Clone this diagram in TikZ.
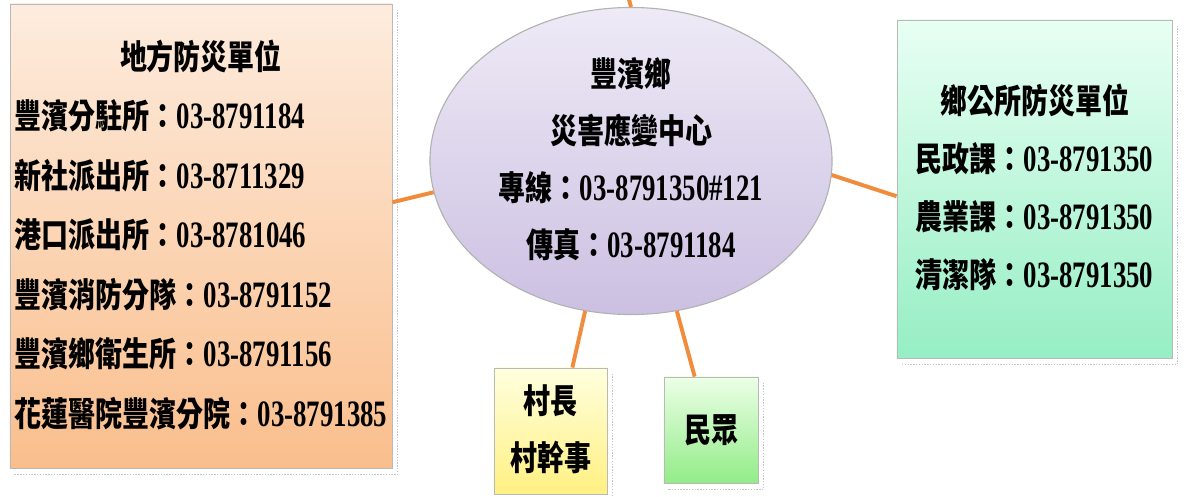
\documentclass[tikz,border=0pt]{standalone}
\usepackage{fontspec}
\setmainfont{Liberation Serif}
\newfontfamily\cjk{Noto Sans CJK TC}
\usepackage{graphicx}
\usepackage{xcolor}
\usepackage{tikz}
\usetikzlibrary{shapes.geometric}

\definecolor{linkorange}{RGB}{240,140,60}
\definecolor{peachtop}{RGB}{253,236,222}
\definecolor{peachbot}{RGB}{250,190,140}
\definecolor{lilactop}{RGB}{238,234,246}
\definecolor{lilacbot}{RGB}{204,192,226}
\definecolor{minttop}{RGB}{232,255,244}
\definecolor{mintbot}{RGB}{150,238,196}
\definecolor{lemontop}{RGB}{255,255,222}
\definecolor{lemonbot}{RGB}{255,240,130}
\definecolor{leaftop}{RGB}{236,255,230}
\definecolor{leafbot}{RGB}{146,236,136}

\newcommand{\sqz}[1]{\scalebox{0.8}[1]{#1}}
\newcommand{\digits}[1]{{\fontsize{26.5}{30}\selectfont\scalebox{0.9}[1]{#1}}}
\newcommand{\tel}[2]{{\cjk #1：}\digits{#2}}

\begin{document}
\begin{tikzpicture}[
    x=0.025cm, y=-0.025cm,
    unitbox/.style={draw=gray!55, line width=0.6pt, inner sep=0pt,
                    font=\bfseries\fontsize{24}{42.3}\selectfont},
    peachbox/.style={unitbox, top color=peachtop, bottom color=peachbot},
    mintbox/.style={unitbox, top color=minttop, bottom color=mintbot},
    lemonbox/.style={unitbox, top color=lemontop, bottom color=lemonbot},
    leafbox/.style={unitbox, top color=leaftop, bottom color=leafbot},
    hubshape/.style={ellipse, draw=gray!60, line width=0.8pt, inner sep=0pt,
                     top color=lilactop, bottom color=lilacbot},
    hubfont/.style={inner sep=0pt, font=\bfseries\fontsize{24}{40.5}\selectfont},
    link/.style={draw=linkorange, line width=2.8pt},
    speck/.style={draw=gray!45, densely dotted, line width=1pt},
]
\useasboundingbox (0,0) rectangle (1186,496);

% ---------------- centre ----------------
\node[hubshape, minimum width=10.05cm, minimum height=7.675cm] (hub) at (631,161) {};
\node[hubfont] (hubtext) at (hub.center) {\sqz{\begin{tabular}{@{}c@{}}
    {\cjk 豐濱鄉}\\
    {\cjk 災害應變中心}\\
    \tel{專線}{03-8791350\#121}\\
    \tel{傳真}{03-8791184}
  \end{tabular}}};

% ---------------- left: local units ----------------
\node[peachbox, minimum width=9.55cm, minimum height=11.6cm] (local) at (201,236)
  {\sqz{\begin{tabular}{@{}l@{}}
    \multicolumn{1}{@{}c@{}}{\cjk 地方防災單位}\\
    \tel{豐濱分駐所}{03-8791184}\\
    \tel{新社派出所}{03-8711329}\\
    \tel{港口派出所}{03-8781046}\\
    \tel{豐濱消防分隊}{03-8791152}\\
    \tel{豐濱鄉衛生所}{03-8791156}\\
    \tel{花蓮醫院豐濱分院}{03-8791385}
  \end{tabular}}};

% ---------------- right: township office ----------------
\node[mintbox, minimum width=6.875cm, minimum height=8.45cm,
      font=\bfseries\fontsize{24}{41.3}\selectfont] (office) at (1034.5,189)
  {\sqz{\begin{tabular}{@{}l@{}}
    \multicolumn{1}{@{}c@{}}{\cjk 鄉公所防災單位}\\
    \tel{民政課}{03-8791350}\\
    \tel{農業課}{03-8791350}\\
    \tel{清潔隊}{03-8791350}
  \end{tabular}}};

% ---------------- bottom ----------------
\node[lemonbox, minimum width=2.825cm, minimum height=3.15cm,
      font=\bfseries\fontsize{24}{40.5}\selectfont] (village) at (550.5,431)
  {\sqz{\begin{tabular}{@{}c@{}}{\cjk 村長}\\{\cjk 村幹事}\end{tabular}}};
\node[leafbox, minimum width=2.35cm, minimum height=2.65cm] (public) at (711,430)
  {\sqz{\cjk 民眾}};

% dotted shadows along right and bottom edges
\foreach \unit in {local, office, village, public} {
  \draw[speck] ([shift={(5,6)}]\unit.north east) -- ([shift={(5,6)}]\unit.south east)
               -- ([shift={(4,6)}]\unit.south west);
}

% ---------------- links ----------------
\coordinate (upper) at (628,-4);
\draw[link] (local.10) -- (hub.189);
\draw[link] (hub.-4) -- (office.183);
\draw[link] (hub.-107) -- (village.71);
\draw[link] (hub.-73) -- (public.107);
\draw[link] (hub.north) -- (upper);

\end{tikzpicture}
\end{document}
